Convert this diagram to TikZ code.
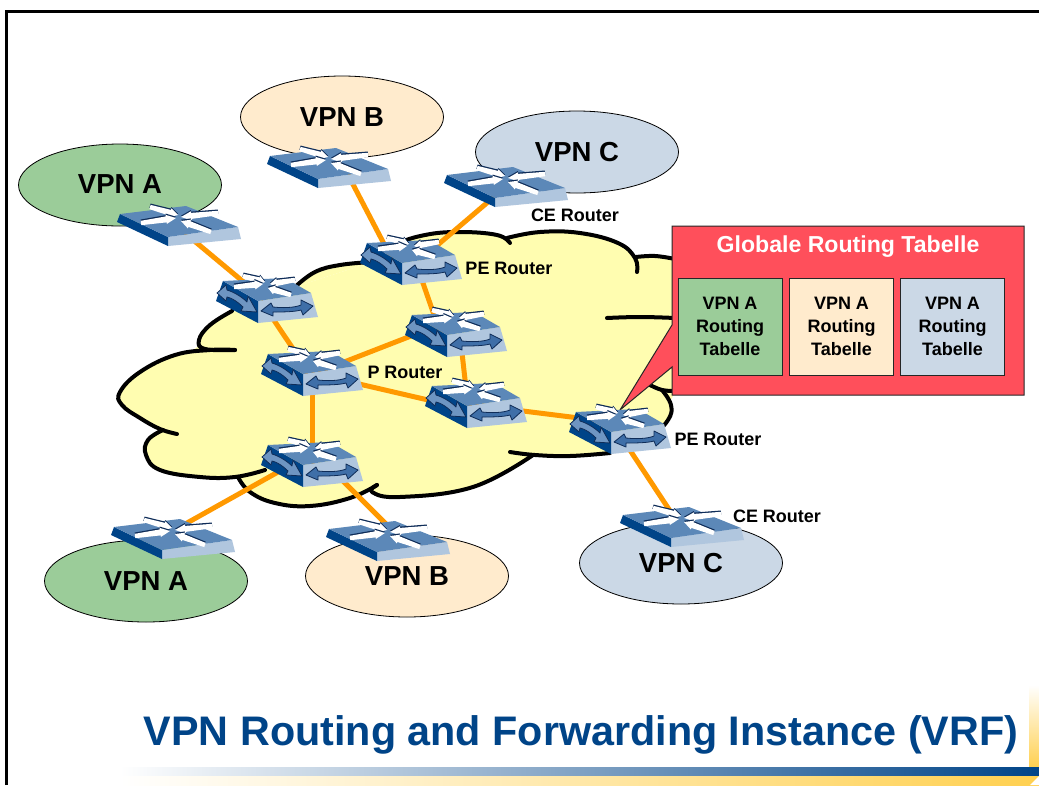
\documentclass[tikz,border=0pt]{standalone}
\usepackage{fontspec}
\setmainfont{Liberation Sans}
\usetikzlibrary{shapes.geometric,calc}
\definecolor{cgreen}{HTML}{9BCC99}
\definecolor{ccream}{HTML}{FFEBCD}
\definecolor{cblue}{HTML}{CBD8E6}
\definecolor{cyel}{HTML}{FFFDB0}
\definecolor{cred}{HTML}{FF4F5B}
\definecolor{corange}{HTML}{FF9900}
\definecolor{navy}{HTML}{004488}
\definecolor{rtop}{HTML}{5C88B8}
\definecolor{rlight}{HTML}{B0C6DE}
\definecolor{rarrow}{HTML}{3F6FA8}
\definecolor{rarrowb}{HTML}{6E95C2}
\definecolor{routl}{HTML}{0E2C58}
\definecolor{gold}{HTML}{FFD050}
\newcommand\fs[1]{\fontsize{#1}{#1}\selectfont\bfseries}
% white arrow on a router top: tail (#1,#2), tip (#3,#4)
\newcommand\wa[4]{%
  \pgfmathsetmacro\dxx{#3-#1}\pgfmathsetmacro\dyy{#4-#2}%
  \pgfmathsetmacro\lenn{veclen(\dxx,\dyy)}%
  \pgfmathsetmacro\nxx{-\dyy/\lenn}\pgfmathsetmacro\nyy{\dxx/\lenn}%
  \pgfmathsetmacro\pax{#1+2.2*\nxx}\pgfmathsetmacro\pay{#2+2.2*\nyy}%
  \pgfmathsetmacro\pbx{#1-2.2*\nxx}\pgfmathsetmacro\pby{#2-2.2*\nyy}%
  \pgfmathsetmacro\ncx{#1+.72*\dxx}\pgfmathsetmacro\ncy{#2+.72*\dyy}%
  \path[fill=routl] ([yshift=1.3pt]\pax,\pay) -- ([yshift=1.3pt]\ncx+3*\nxx,\ncy+3*\nyy) -- ([yshift=1.3pt]\ncx+4.6*\nxx,\ncy+4.6*\nyy) -- ([yshift=1.3pt]#3,#4) -- ([yshift=1.3pt]\ncx-4.6*\nxx,\ncy-4.6*\nyy) -- ([yshift=1.3pt]\ncx-3*\nxx,\ncy-3*\nyy) -- ([yshift=1.3pt]\pbx,\pby) -- cycle;
  \path[fill=white] (\pax,\pay) -- (\ncx+3*\nxx,\ncy+3*\nyy) -- (\ncx+4.6*\nxx,\ncy+4.6*\nyy) -- (#3,#4) -- (\ncx-4.6*\nxx,\ncy-4.6*\nyy) -- (\ncx-3*\nxx,\ncy-3*\nyy) -- (\pbx,\pby) -- cycle;
}
\tikzset{
  link/.style={draw=corange,line width=5pt},
  vpn/.style={ellipse,draw=black,line width=.8pt,minimum width=203pt,minimum height=82pt,inner sep=0pt,font=\fs{27.5}},
  rlabel/.style={inner sep=0pt,font=\fs{18}},
  tbl/.style={rectangle,draw=black!85,line width=1pt,minimum width=104pt,minimum height=97pt,inner sep=0pt,align=center,font=\fs{18}},
  cloudline/.style={draw=black,line width=4pt,line cap=round,line join=round},
  pics/prouter/.style={code={
    \path[fill=rlight] (0,0) -- (53,-8) -- (60,16) -- (0,22) -- cycle;
    \path[fill=navy] (-35,-20) -- (0,0) -- (0,22) -- (-42,0) -- cycle;
    \path[fill=rtop] (-35,-20) -- (27,-23) -- (53,-8) -- (0,0) -- cycle;
    \path[fill=rarrowb,draw=routl,line width=.8pt,line join=round]
      (-41,-8) -- (-32,-16) -- (-31,-11) .. controls (-24,-9) and (-16,-4) .. (-11,1) -- (-10,-5) -- (-1,11)
      -- (-17,10) -- (-15,6) .. controls (-20,1) and (-26,-3) .. (-31,-4) -- (-32,0) -- cycle;
    \path[fill=rarrow,draw=routl,line width=.8pt,line join=round]
      (3,10) -- (13,2) -- (15,6) .. controls (24,7) and (36,7) .. (43,4) -- (43,-1) -- (55,5)
      -- (45,14) -- (43,9) .. controls (36,11) and (24,11) .. (15,11) -- (15,15) -- cycle;
    \wa{-15}{-25}{7}{-19}
    \wa{-24}{-14}{5}{-17}
    \wa{37}{-21}{12}{-17}
    \wa{33}{-6}{10}{-13}
  }},
  pics/crouter/.style={code={
    \path[fill=rlight] (0,0) -- (70,-10) -- (73,2) -- (0,9) -- cycle;
    \path[fill=navy] (-48,-23) -- (0,0) -- (0,9) -- (-51,-15) -- cycle;
    \path[fill=rtop] (-48,-23) -- (18,-31) -- (70,-10) -- (0,0) -- cycle;
    \wa{-18}{-30}{10}{-22}
    \wa{-27}{-14}{8}{-19}
    \wa{50}{-24}{13}{-20}
    \wa{43}{-5}{13}{-16}
  }}
}
\newcommand\lobefill[1]{\fill[cyel] plot[smooth,tension=.7] coordinates {#1};}
\newcommand\lobedraw[1]{\draw[cloudline] plot[smooth,tension=.7] coordinates {#1};}
\newcommand\alllobes{%
  \lobe{(235,350)(210,350)(175,355)(140,372)(120,392)(122,405)(140,418)(160,429)(177,434)}%
  \lobe{(163,430)(148,440)(146,455)(160,470)(200,477)(235,477)(265,470)}%
  \lobe{(238,477)(250,492)(275,503)(310,506)(350,498)(377,485)}%
  \lobe{(377,485)(372,492)(400,497)(473,487)(533,455)}%
  \lobe{(510,452)(535,455)(570,456)(610,453)}%
  \lobe{(662,390)(671,405)(668,420)(650,440)}%
  \lobe{(650,385)(662,390)(675,391)}%
  \lobe{(607,318)(640,317)(675,318)}%
  \lobe{(637,272)(635,258)(618,243)(580,233)(540,232)(507,238)}%
  \lobe{(636,257)(655,256)(675,259)}%
  \lobe{(510,243)(497,235)(460,232)(425,235)(395,245)(370,262)}%
  \lobe{(372,262)(340,265)(315,272)(295,287)}%
  \lobe{(232,311)(210,325)(199,340)(205,349)(235,350)}%
}
\begin{document}
\begin{tikzpicture}[x=1pt,y=-1pt]
\useasboundingbox (0,0) rectangle (1039,785);
\fill[white] (0,0) rectangle (1039,785);
% slide decoration
\draw[black,line width=3pt] (6,785) -- (6,11) -- (1039,11);
\shade[top color=white,bottom color=gold] (1029,685) rectangle (1039,767);
\shade[left color=white,right color=navy] (120,767) rectangle (1039,776);
\shade[left color=white,right color=gold] (120,776) rectangle (1039,785);
\fill[white] (1030,785) -- (1039,776) -- (1039,785) -- cycle;
% cloud
\fill[cyel] (200,345) -- (232,311) -- (295,287) -- (372,262) -- (400,240) -- (500,236) -- (637,258) -- (675,258) -- (675,392) -- (650,440) -- (610,453) -- (533,455) -- (473,487) -- (377,490) -- (310,504) -- (240,477) -- (165,430) -- (123,400) -- cycle;
\let\lobe\lobefill \alllobes
\let\lobe\lobedraw \alllobes
% VPN sites
\node[vpn,fill=cgreen] (va1) at (120,185) {\raisebox{2pt}{VPN A}};
\node[vpn,fill=ccream] (vb1) at (342,117) {VPN B};
\node[vpn,fill=cblue]  (vc1) at (577,152) {VPN C};
\node[vpn,fill=cgreen] (va2) at (146,581) {VPN A};
\node[vpn,fill=ccream] (vb2) at (407,576) {VPN B};
\node[vpn,fill=cblue]  (vc2) at (681,563) {VPN C};
% router positions
\coordinate (cea1) at (168,237);
\coordinate (ceb1) at (318,179);
\coordinate (cec1) at (495,198);
\coordinate (cea2) at (162,550);
\coordinate (ceb2) at (377,552);
\coordinate (cec2) at (671,538);
\coordinate (r1) at (258,301);
\coordinate (pr) at (303,374);
\coordinate (r3) at (303,465);
\coordinate (pe1) at (402,263);
\coordinate (r5) at (447,335);
\coordinate (r6) at (467,406);
\coordinate (pe2) at (611,432);
% links
\draw[link] ([shift={(12,-8)}]cea1) -- ([shift={(0,-7)}]r1);
\draw[link] ([shift={(3,0)}]r1) -- ([shift={(7,0)}]pr);
\draw[link] ([shift={(9,0)}]pr) -- ([shift={(9,0)}]r3);
\draw[link] ([shift={(0,4)}]pr) -- ([shift={(0,-13)}]r5);
\draw[link] ([shift={(0,-3)}]pr) -- ([shift={(0,3)}]r6);
\draw[link] ([shift={(14,0)}]pe1) -- ([shift={(-6,0)}]r5);
\draw[link] ([shift={(13,0)}]r5) -- ([shift={(1,0)}]r6);
\draw[link] ([shift={(0,-2)}]r6) -- ([shift={(0,-10)}]pe2);
\draw[link] ([shift={(7,0)}]pe2) -- ([shift={(5,-18)}]cec2);
\draw[link] ([shift={(28,-8)}]ceb1) -- ([shift={(-8,0)}]pe1);
\draw[link] ([shift={(0,-2)}]cec1) -- ([shift={(18,-3)}]pe1);
\draw[link] ([shift={(0,-7)}]r3) -- ([shift={(0,-13)}]cea2);
\draw[link] ([shift={(24,0)}]r3) -- ([shift={(15,-22)}]ceb2);
% routing table panel
\path[fill=cred,draw=black!85,line width=1pt,line join=miter] (672,226) -- (1024,226) -- (1024,395) -- (672,395) -- (672,367) -- (620,410) -- (672,325) -- cycle;
\node[inner sep=0pt,text=white,font=\fs{23.1}] (glob) at (848,247) {Globale Routing Tabelle};
\node[tbl,fill=cgreen] (ta) at (730,326.5) {VPN A\\[5pt]Routing\\[5pt]Tabelle};
\node[tbl,fill=ccream] (tb) at (841.5,326.5) {VPN A\\[5pt]Routing\\[5pt]Tabelle};
\node[tbl,fill=cblue]  (tc) at (952.5,326.5) {VPN A\\[5pt]Routing\\[5pt]Tabelle};
% routers
\foreach \c in {cea1,ceb1,cec1,cea2,ceb2,cec2} \pic at (\c) {crouter};
\foreach \c in {r1,pr,r3,pe1,r5,r6,pe2} \pic at (\c) {prouter};
% labels
\node[rlabel] (l1) at (575,215) {CE Router};
\node[rlabel] (l2) at (509,268) {PE Router};
\node[rlabel] (l3) at (405,372) {P Router};
\node[rlabel] (l4) at (718,439) {PE Router};
\node[rlabel] (l5) at (777,516) {CE Router};
\node[inner sep=0pt,text=navy,font=\fs{41.3}] (title) at (581,735) {VPN Routing and Forwarding Instance (VRF)};
\end{tikzpicture}
\end{document}
